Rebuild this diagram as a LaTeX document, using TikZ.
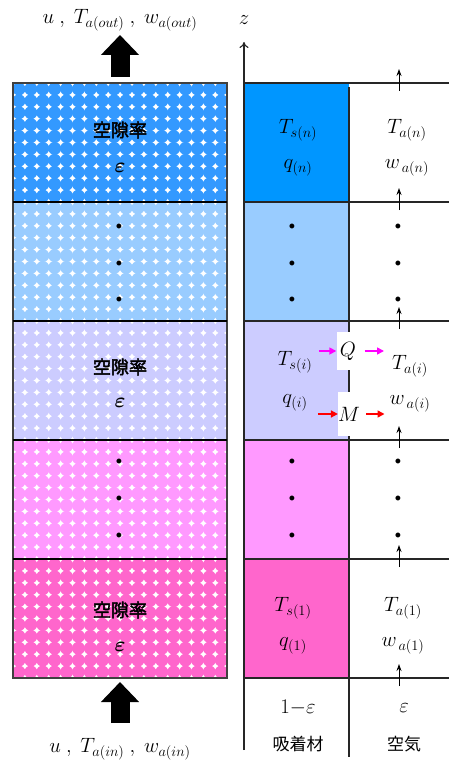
\documentclass[tikz,border=0pt]{standalone}
\usepackage{amsmath}
\usepackage{fontspec}
\setmainfont{Liberation Serif}
\newfontfamily\jpfont{Noto Sans CJK JP}
\newfontfamily\jpbold[FakeBold=2.5]{Noto Sans CJK JP}
\usetikzlibrary{positioning, arrows.meta, calc}

\definecolor{dotN}{HTML}{3399FF}
\definecolor{solN}{HTML}{0096FF}
\definecolor{dotU}{HTML}{99CCFF}
\definecolor{solU}{HTML}{99CCFF}
\definecolor{dotI}{HTML}{CCCCFF}
\definecolor{solI}{HTML}{CCCCFF}
\definecolor{dotL}{HTML}{FF99FF}
\definecolor{solL}{HTML}{FF99FF}
\definecolor{dotO}{HTML}{FF66CC}
\definecolor{solO}{HTML}{FF66CC}
\definecolor{heatflow}{HTML}{FF00FF}

\begin{document}
\begin{tikzpicture}
    [
        x=1pt, y=-1pt,
        on grid,
        node distance=38pt and 20pt,
        sym/.style={font=\fontsize{21}{24}\selectfont, inner sep=0pt},
        jpbig/.style={font=\jpbold\fontsize{18}{20}\selectfont, inner sep=0pt},
        jplbl/.style={font=\jpfont\fontsize{17}{20}\selectfont, inner sep=0pt},
        vdot/.style={font=\fontsize{30}{30}\selectfont\bfseries\itshape, inner sep=0pt},
        cover/.style={fill=white, inner sep=0pt, minimum width=23pt, minimum height=38pt, font=\fontsize{22}{24}\selectfont},
        gridline/.style={draw=black!85, line width=1.1pt},
        flow/.style={-{Stealth[length=7pt, width=5pt]}, line width=0.9pt},
        qflow/.style={-{Triangle[length=7pt, width=7pt]}, line width=1.6pt, heatflow},
        mflow/.style={-{Triangle[length=7pt, width=7pt]}, line width=1.6pt, red},
        bigarrow/.style={line width=19pt, -{Triangle[length=20pt, width=37pt]}}
    ]
        \useasboundingbox (0,0) rectangle (449,762);
        % =========================================================================
        % LAYERS
        % =========================================================================
        \foreach \k/\dotcol/\solcol in {0/dotN/solN, 1/dotU/solU, 2/dotI/solI, 3/dotL/solL, 4/dotO/solO} {
            \pgfmathsetmacro{\ytop}{83+119*\k}
            \pgfmathsetmacro{\ybot}{\ytop+119}
            \fill [\solcol] (244,\ytop) rectangle (349,\ybot);
            \begin{scope}
                \clip (13,\ytop) rectangle (227,\ybot);
                \foreach \c in {0,...,17}
                    \foreach \r in {0,...,9}
                        \fill [\dotcol] ({18.95+11.9*\c},{\ytop+5.95+11.9*\r}) circle (6.5pt);
            \end{scope}
        }
        % --- Bed frame ---
        \draw [draw=black!75, line width=1.2pt] (13,83) rectangle (227,678);
        \foreach \y in {202,321,440,559}
            \draw [line width=1.5pt] (13,\y) -- (227,\y);
        % --- Right grid ---
        \foreach \y in {83,202,321,440,559,678}
            \draw [gridline] (244,\y) -- (449,\y);
        \draw [gridline] (349,87) -- (349,757);
        \coordinate (zfoot) at (244,750);
        \coordinate (ztip) at (244,42);
        \draw [gridline, -{To[length=6pt, width=9pt]}] (zfoot) -- (ztip);
        \node [sym] (z) at (244,20) {$z$};

        % =========================================================================
        % NODES
        % =========================================================================
        % --- Bed ---
        \node [jpbig] (voidN) at (120,130) {空隙率};
        \node [sym, below=of voidN] (epsN) {$\boldsymbol{\varepsilon}$};
        \node [jpbig] (voidI) at (120,367) {空隙率};
        \node [sym, below=36pt of voidI] (epsI) {$\boldsymbol{\varepsilon}$};
        \node [jpbig] (voidO) at (120,610) {空隙率};
        \node [sym, below=37pt of voidO] (epsO) {$\boldsymbol{\varepsilon}$};
        % --- Adsorbent ---
        \node [sym] (Tsn) at (298,130) {$T_{s(n)}$};
        \node [sym, below=of Tsn] (qn) {$q_{(n)}$};
        \node [sym] (Tsi) at (295,362) {$T_{s(i)}$};
        \node [sym, below=41pt of Tsi] (qi) {$q_{(i)}$};
        \node [sym] (Ts1) at (293,608) {$T_{s(1)}$};
        \node [sym, below=of Ts1] (q1) {$q_{(1)}$};
        % --- Air ---
        \node [sym] (Tan) at (407,130) {$T_{a(n)}$};
        \node [sym, below=of Tan] (wan) {$w_{\,a(n)}$};
        \node [sym] (Tai) at (410,366) {$T_{a(i)}$};
        \node [sym, below=38pt of Tai] (wai) {$w_{\,a(i)}$};
        \node [sym] (Ta1) at (403,608) {$T_{a(1)}$};
        \node [sym, below=of Ta1] (wa1) {$w_{\,a(1)}$};
        % --- Exchange ---
        \node [cover] (Q) at (348,351) {$Q$};
        \node [cover, minimum width=21pt, minimum height=44pt] (M) at (349,414) {$M$};
        % --- Vertical dots ---
        \foreach \x in {120,293,399} {
            \foreach \y in {226,263,299,461,498,535}
                \node [vdot] at (\x,\y) {.};
        }
        % --- Inlet / outlet ---
        \node [sym] (outlbl) at (120,20) {$u\ ,\ T_{a(out)}\ ,\ w_{a(out)}$};
        \node [sym] (inlbl) at (120,749) {$u\ ,\ T_{a(in)}\ ,\ w_{a(in)}$};
        \coordinate (outfoot) at (120,77);
        \coordinate (outhead) at (120,35);
        \coordinate (infoot) at (120,723);
        \coordinate (inhead) at (120,682);
        % --- Bottom labels ---
        \node [sym] (solfrac) at (298,708) {$1{-}\varepsilon$};
        \node [sym] (airfrac) at (404,708) {$\varepsilon$};
        \node [jplbl] (sollbl) at (298,744) {吸着材};
        \node [jplbl] (airlbl) at (404,744) {空気};

        % =========================================================================
        % PATHS
        % =========================================================================
        \draw [bigarrow] (outfoot) -- (outhead);
        \draw [bigarrow] (infoot) -- (inhead);
        % --- Air flow ---
        \foreach \y in {83,202,321,440,559,678} {
            \coordinate (up\y) at (399,\y+8);
            \coordinate (top\y) at (399,\y-14);
            \draw [flow] (up\y) -- (top\y);
        }
        % --- Heat and moisture ---
        \draw [qflow] ([xshift=6pt]Tsi.east |- Q.west) -- (Q.west);
        \draw [qflow, shorten <=5pt] (Q.east) -- ([xshift=-8pt]Tai.west |- Q.east);
        \draw [mflow] ([xshift=10pt]qi.east |- M.west) -- (M.west);
        \draw [mflow, shorten <=6pt] (M.east) -- ([xshift=-5pt]wai.west |- M.east);

    \end{tikzpicture}
\end{document}
